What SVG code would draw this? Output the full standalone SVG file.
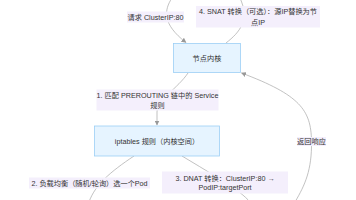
<svg xmlns="http://www.w3.org/2000/svg" width="356" height="200" viewBox="0 0 356 200">
<style>
.node rect{fill:#e6f4ff;stroke:#9ccff5;stroke-width:0.8}
.edge{fill:none;stroke:#a8a8a8;stroke-width:0.7}
.lbl rect{fill:#f4effc;stroke:none}
text{font-family:"Liberation Sans","Noto Sans CJK SC",sans-serif;font-size:7.2px;fill:#333;text-anchor:middle;dominant-baseline:central}
</style>
<defs>
<marker id="ah" viewBox="0 0 10 10" refX="9" refY="5" markerWidth="5" markerHeight="5" orient="auto" markerUnits="userSpaceOnUse">
<path d="M0,0 L10,5 L0,10 z" fill="#999"/>
</marker>
</defs>
<rect width="356" height="200" fill="#fff"/>
<g id="connectors">
<path class="edge" d="M172,-2 C164,10 162,24 186,42.5" marker-end="url(#ah)"/>
<path class="edge" d="M226,43 C240,32 250,20 240,-2"/>
<path class="edge" d="M188,73 C178,88 157,100 157,112 L157,125" marker-end="url(#ah)"/>
<path class="edge" d="M134,156 C110,172 95,185 89,202"/>
<path class="edge" d="M182,156 C215,176 240,190 250,202"/>
<path class="edge" d="M295,202 C305,185 312,170 311.5,141 C311,110 300,95 241.5,73" marker-end="url(#ah)"/>
</g>
<g id="edge-labels">
<g class="lbl" id="lbl-req"><rect x="127" y="11.5" width="57" height="11"/><text x="155.5" y="17">请求 ClusterIP:80</text></g>
<g class="lbl" id="lbl-snat"><rect x="196" y="6" width="124" height="21.5"/><text x="258" y="11.7">4. SNAT 转换（可选）：源IP替换为节</text><text x="258" y="22.5">点IP</text></g>
<g class="lbl" id="lbl-1"><rect x="96.5" y="89.5" width="122" height="21"/><text x="157.5" y="95">1. 匹配 PREROUTING 链中的 Service</text><text x="157.5" y="105.2">规则</text></g>
<g class="lbl" id="lbl-2"><rect x="29" y="177.5" width="121" height="11"/><text x="89.5" y="183">2. 负载均衡（随机/轮询）选一个Pod</text></g>
<g class="lbl" id="lbl-3"><rect x="162" y="171.5" width="126" height="22"/><text x="225" y="178">3. DNAT 转换：ClusterIP:80 →</text><text x="225" y="187.5">PodIP:targetPort</text></g>
<g class="lbl" id="lbl-ret"><rect x="297" y="137" width="29" height="9"/><text x="311.5" y="141.5">返回响应</text></g>
</g>
<g id="node-kernel" class="node"><rect x="173.5" y="43.5" width="67" height="29"/><text x="207" y="58.5">节点内核</text></g>
<g id="node-iptables" class="node"><rect x="94.5" y="126" width="125" height="30"/><text x="157" y="141.5">iptables 规则（内核空间）</text></g>
</svg>
